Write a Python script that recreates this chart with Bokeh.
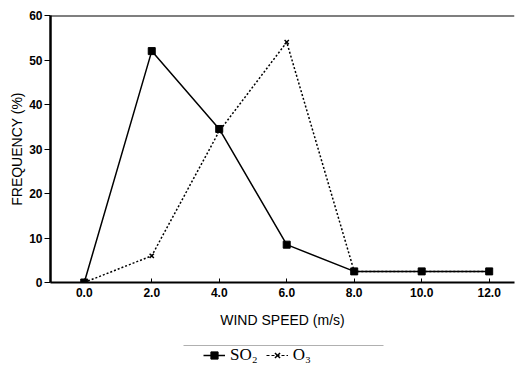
from bokeh.plotting import figure
from bokeh.layouts import column
from bokeh.models import Span, Legend, LegendItem, FixedTicker
from bokeh.embed import file_html
from bokeh.resources import INLINE

# Wind speed classes (m/s) and frequency of high-concentration events (%)
wind_speed = [0.0, 2.0, 4.0, 6.0, 8.0, 10.0, 12.0]
so2_freq = [0.0, 52.0, 34.5, 8.5, 2.5, 2.5, 2.5]
o3_freq = [0.0, 6.0, 34.0, 54.0, 2.5, 2.5, 2.5]
x_ticks = [0, 2, 4, 6, 8, 10, 12]
y_ticks = [0, 10, 20, 30, 40, 50, 60]

FONT = "Liberation Sans"
LEFT, RIGHT = 50, 2

p = figure(width=516, height=330, output_backend="svg", toolbar_location=None,
           x_range=(-1.0, 12.75), y_range=(0, 60),
           min_border_left=LEFT, min_border_right=RIGHT, min_border_top=15,
           min_border_bottom=47)
p.outline_line_color = None
p.grid.visible = False

for ax in (p.xaxis[0], p.yaxis[0]):
    ax.minor_tick_line_color = None
    ax.major_label_text_font = FONT
    ax.major_label_text_font_size = "12px"
    ax.major_label_text_font_style = "bold"
    ax.major_label_text_color = "black"
    ax.axis_label_text_font = FONT
    ax.axis_label_text_font_size = "14px"
    ax.axis_label_text_font_style = "normal"
    ax.axis_label_text_color = "black"
    ax.axis_line_color = "black"
    ax.major_tick_line_color = "black"

# x axis
xa = p.xaxis[0]
xa.ticker = FixedTicker(ticks=x_ticks)
xa.major_label_overrides = {t: f"{t:.1f}" for t in x_ticks}
xa.major_tick_in = 4
xa.major_tick_out = 0
xa.axis_line_width = 2
xa.major_label_standoff = 5
xa.axis_label = "WIND SPEED (m/s)"
xa.axis_label_standoff = 12

# y axis
ya = p.yaxis[0]
ya.ticker = FixedTicker(ticks=y_ticks)
ya.major_tick_in = 0
ya.major_tick_out = 6
ya.axis_line_width = 2.5
ya.major_label_standoff = 2
ya.axis_label = "FREQUENCY (%)"
ya.axis_label_standoff = 1

# top frame line
p.add_layout(Span(location=60, dimension="width", line_color="black", line_width=2))

# SO2: solid line, square markers
p.line(wind_speed, so2_freq, line_color="black", line_width=1.5)
p.scatter(wind_speed, so2_freq, marker="square", size=7,
          fill_color="black", line_color="black")

# O3: dotted line, small cross markers
p.line(wind_speed, o3_freq, line_color="black", line_width=1.5, line_dash="2 2")
p.scatter(wind_speed, o3_freq, marker="x", size=6, line_color="black", line_width=1.5)

# Legend strip underneath the chart; the column aligns its frame with the
# chart's frame, so its x range is expressed in page pixels
lg = figure(width=516, height=44, output_backend="svg", toolbar_location=None,
            x_range=(LEFT, 516 - RIGHT), y_range=(0, 44), min_border=0,
            min_border_left=LEFT, min_border_right=RIGHT,
            x_axis_location=None, y_axis_location=None)
lg.grid.visible = False
lg.outline_line_color = None
lg.segment(x0=[183], y0=[29], x1=[383], y1=[29], line_color="#b0b0b0", line_width=1)

# off-canvas renderers that only supply the legend swatches
so2_l = lg.line([-50, -40], [-50, -50], line_color="black", line_width=1.5)
so2_m = lg.scatter([-50], [-50], marker="square", size=7, fill_color="black", line_color="black")
o3_l = lg.line([-50, -40], [-50, -50], line_color="black", line_width=1.2, line_dash="3 2")
o3_m = lg.scatter([-50], [-50], marker="x", size=6, line_color="black", line_width=1.5)

legend = Legend(items=[
    LegendItem(label="SO\u2082", renderers=[so2_l, so2_m]),
    LegendItem(label="O\u2083", renderers=[o3_l, o3_m]),
], orientation="horizontal", location=(203 - LEFT, 9),
    label_text_font="Liberation Serif", label_text_font_size="17px",
    label_text_color="black", label_height=18, glyph_height=18,
    border_line_color=None, background_fill_alpha=0,
    glyph_width=22, spacing=8, margin=0, padding=2, label_standoff=5)
lg.add_layout(legend)

open("out.html", "w").write(file_html(column(p, lg, spacing=0), INLINE))
